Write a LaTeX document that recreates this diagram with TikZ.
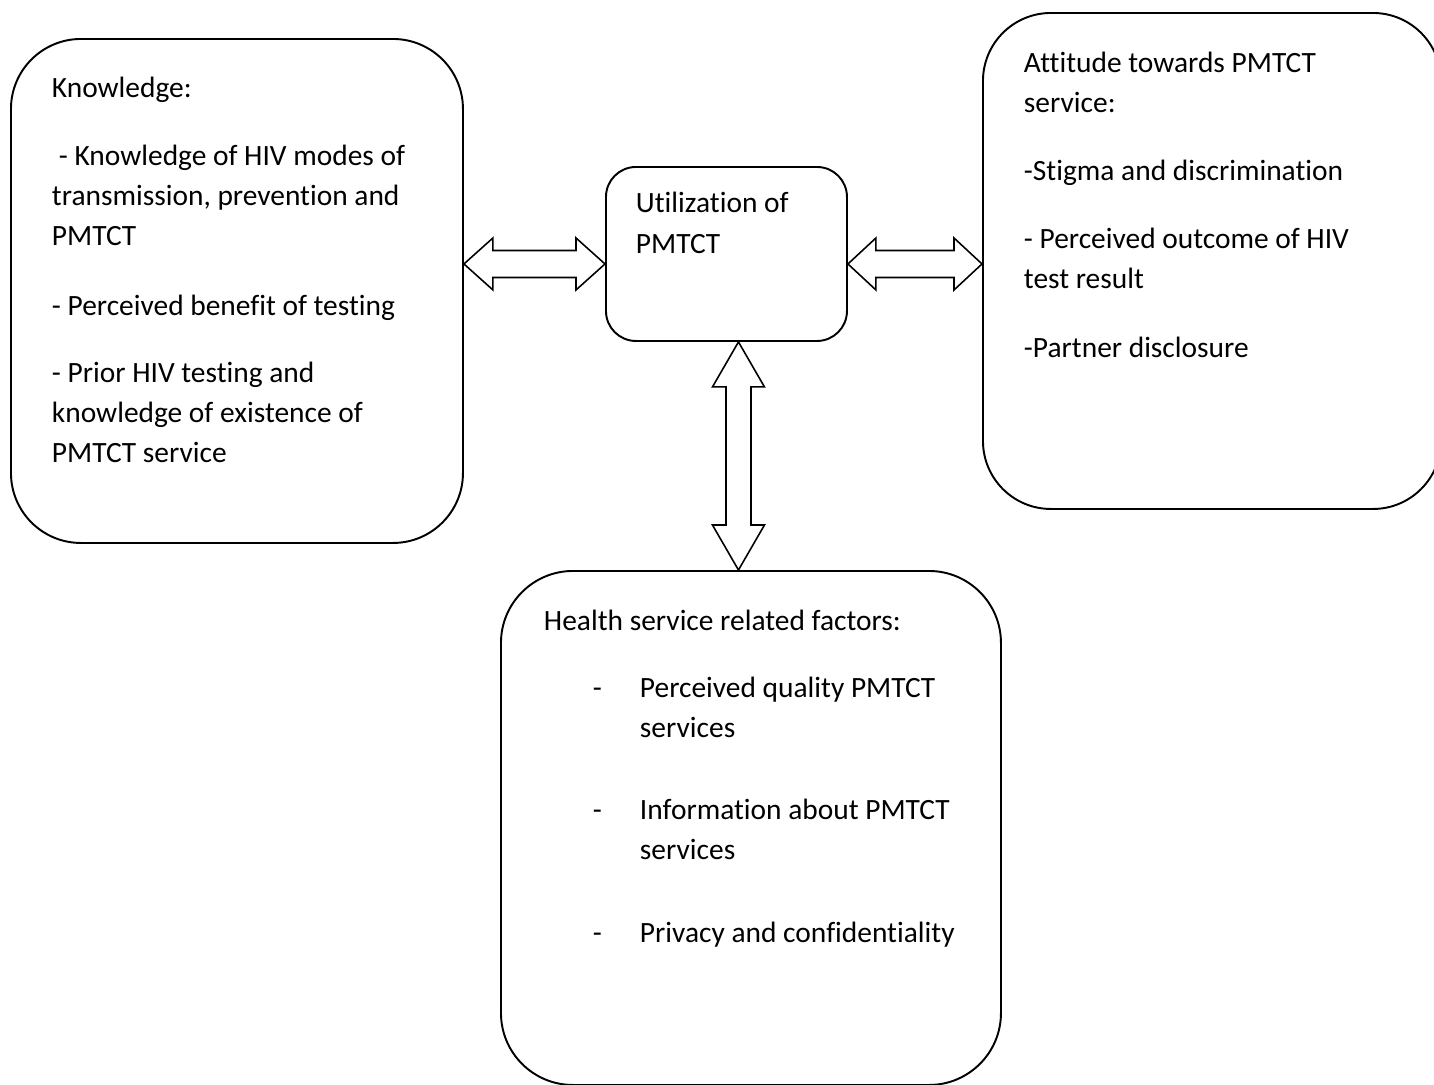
\documentclass[tikz,border=0pt]{standalone}
\usepackage{fontspec}
\setmainfont{Carlito}[Ligatures=CommonOff]
\usetikzlibrary{calc}

\newdimen\pxu
\pxu=0.02cm

\begin{document}
\begin{tikzpicture}[x=0.02cm,y=-0.02cm,
  factor/.style={draw, line width=1.1pt, anchor=north west, inner sep=0pt,
    font=\fontsize{16.75pt}{22.76pt}\selectfont},
  blockarrow/.style={draw, line width=0.9pt}]

\useasboundingbox (0,0) rectangle (1434,1085);

% the four boxes
\node[factor, rounded corners=1.4cm] (know) at (10,38) {\parbox[c][504\pxu][t]{452\pxu}{\leftskip=41\pxu
\rule{0pt}{59\pxu}Knowledge:\\[28\pxu]
\hspace*{7\pxu}- Knowledge of HIV modes of\\
transmission, prevention and\\
PMTCT\\[30\pxu]
- Perceived benefit of testing\\[27\pxu]
- Prior HIV testing and\\
knowledge of existence of\\
PMTCT service}};

\node[factor, rounded corners=0.6cm] (util) at (605,166) {\parbox[c][174\pxu][t]{241\pxu}{\leftskip=30\pxu
\rule{0pt}{46\pxu}Utilization of\\[1\pxu]
PMTCT}};

\node[factor, rounded corners=1.36cm] (att) at (982,12) {\parbox[c][496\pxu][t]{458\pxu}{\leftskip=41\pxu
\rule{0pt}{60\pxu}Attitude towards PMTCT\\
service:\\[28\pxu]
-Stigma and discrimination\\[28\pxu]
- Perceived outcome of HIV\\
test result\\[29\pxu]
-Partner disclosure}};

\node[factor, rounded corners=1.44cm] (health) at (500,570) {\parbox[c][514\pxu][t]{500\pxu}{\leftskip=43\pxu
\rule{0pt}{60\pxu}Health service related factors:\\[27\pxu]
\hspace*{49\pxu}\makebox[47\pxu][l]{-}Perceived quality PMTCT\\
\hspace*{96\pxu}services\\[42\pxu]
\hspace*{49\pxu}\makebox[47\pxu][l]{-}Information about PMTCT\\
\hspace*{96\pxu}services\\[43\pxu]
\hspace*{49\pxu}\makebox[47\pxu][l]{-}Privacy and confidentiality}};

% tips of the block arrows
\coordinate (lt) at ([yshift=-0.2cm]util.west);
\coordinate (ls) at (know.east |- lt);
\coordinate (rt) at ([yshift=-0.2cm]util.east);
\coordinate (rs) at (att.west |- rt);
\coordinate (vt) at ([xshift=0.24cm]util.south);
\coordinate (vs) at (vt |- health.north);

% double block arrows
\draw[blockarrow] (ls) -- ++(29,-26) -- ++(0,12.5) -- ($(lt)+(-29,-13.5)$) -- ++(0,-12.5) -- (lt)
  -- ++(-29,26) -- ++(0,-12.5) -- ($(ls)+(29,13.5)$) -- ++(0,12.5) -- cycle;
\draw[blockarrow] (rt) -- ++(28,-26) -- ++(0,12.5) -- ($(rs)+(-28,-13.5)$) -- ++(0,-12.5) -- (rs)
  -- ++(-28,26) -- ++(0,-12.5) -- ($(rt)+(28,13.5)$) -- ++(0,12.5) -- cycle;
\draw[blockarrow] (vt) -- ++(26,45) -- ++(-13.5,0) -- ($(vs)+(12.5,-45)$) -- ++(13.5,0) -- (vs)
  -- ++(-26,-45) -- ++(13.5,0) -- ($(vt)+(-12.5,45)$) -- ++(-13.5,0) -- cycle;

\end{tikzpicture}
\end{document}
